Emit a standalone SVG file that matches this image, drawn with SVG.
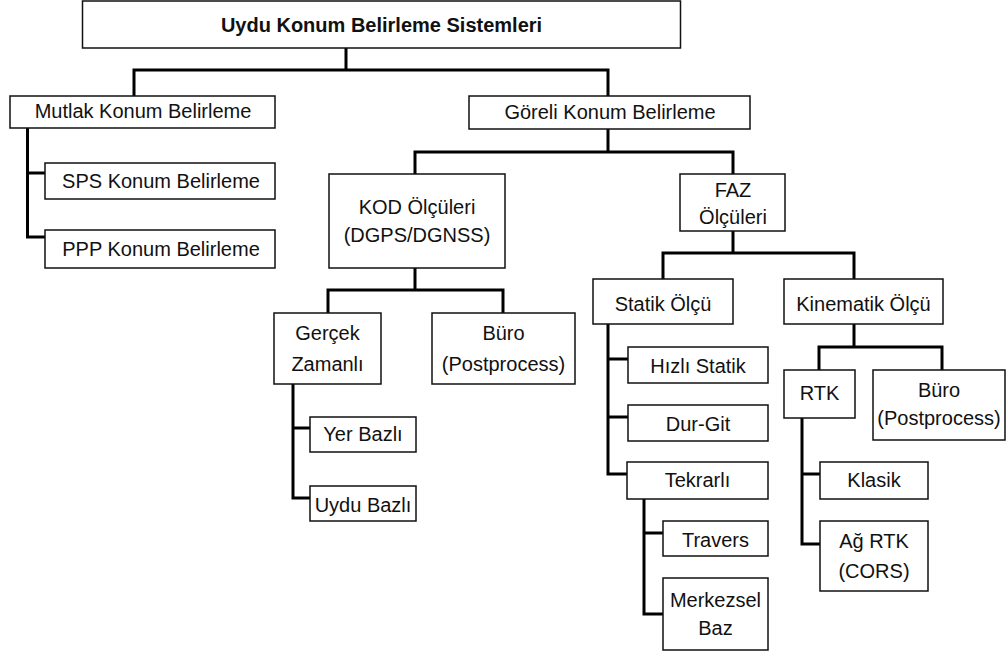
<svg xmlns="http://www.w3.org/2000/svg" width="1007" height="654" viewBox="0 0 1007 654">
<style>
rect.n{fill:#fff;stroke:#111;stroke-width:1.5}
text{font-family:"Liberation Sans",Arial,sans-serif;font-size:20px;fill:#111;text-anchor:middle}
text.b{font-weight:bold}
#connectors path{fill:none;stroke:#000;stroke-width:3}
</style>
<rect width="1007" height="654" fill="#fff"/>
<g id="connectors">
<path d="M346,48V70M134,96V70H608V96"/>
<path d="M27.5,128V237H45M27.5,173H45"/>
<path d="M608,129V152M415,174V152H733V174"/>
<path d="M415,268V290M328,313V290H503V313"/>
<path d="M293,384V498H310M293,428H310"/>
<path d="M733,231V253M663,279V253H854V279"/>
<path d="M608,324V474H628M608,359H628M608,417H628"/>
<path d="M644,499V614H663M644,533H663"/>
<path d="M854,324V347M819,370V347H942V370"/>
<path d="M802,418V544H820M802,474H820"/>
</g>
<g id="n-root"><rect class="n" x="82.5" y="1" width="598" height="47"/><text class="b" x="381.5" y="32">Uydu Konum Belirleme Sistemleri</text></g>
<g id="n-mutlak"><rect class="n" x="10" y="96" width="265" height="32"/><text x="143" y="118">Mutlak Konum Belirleme</text></g>
<g id="n-sps"><rect class="n" x="45" y="163" width="230" height="36"/><text x="161" y="188">SPS Konum Belirleme</text></g>
<g id="n-ppp"><rect class="n" x="45" y="230" width="230" height="38"/><text x="161" y="256">PPP Konum Belirleme</text></g>
<g id="n-goreli"><rect class="n" x="469" y="96" width="281" height="33"/><text x="610" y="119">Göreli Konum Belirleme</text></g>
<g id="n-kod"><rect class="n" x="329" y="174" width="176" height="94"/><text x="417" y="214">KOD Ölçüleri</text><text x="417" y="242">(DGPS/DGNSS)</text></g>
<g id="n-faz"><rect class="n" x="680" y="174" width="105" height="57"/><text x="733" y="197">FAZ</text><text x="733" y="224">Ölçüleri</text></g>
<g id="n-gercek"><rect class="n" x="274" y="313" width="107" height="71"/><text x="327.5" y="340">Gerçek</text><text x="327.5" y="371">Zamanlı</text></g>
<g id="n-buro1"><rect class="n" x="432" y="313" width="143" height="71"/><text x="503.5" y="340">Büro</text><text x="503.5" y="371">(Postprocess)</text></g>
<g id="n-yer"><rect class="n" x="310" y="417" width="106" height="35"/><text x="363" y="441">Yer Bazlı</text></g>
<g id="n-uydu"><rect class="n" x="310" y="486" width="106" height="35"/><text x="363" y="512">Uydu Bazlı</text></g>
<g id="n-statik"><rect class="n" x="593" y="279" width="140" height="45"/><text x="663" y="311">Statik Ölçü</text></g>
<g id="n-kinematik"><rect class="n" x="784" y="279" width="159" height="45"/><text x="863.5" y="311">Kinematik Ölçü</text></g>
<g id="n-hizli"><rect class="n" x="628" y="347" width="140" height="36"/><text x="698" y="373">Hızlı Statik</text></g>
<g id="n-durgit"><rect class="n" x="628" y="405" width="140" height="36"/><text x="698" y="431">Dur-Git</text></g>
<g id="n-tekrarli"><rect class="n" x="627" y="462" width="141" height="37"/><text x="697.5" y="487">Tekrarlı</text></g>
<g id="n-travers"><rect class="n" x="663" y="521" width="105" height="35"/><text x="715.5" y="547">Travers</text></g>
<g id="n-merkezsel"><rect class="n" x="663" y="578" width="105" height="72"/><text x="715.5" y="607">Merkezsel</text><text x="715.5" y="635">Baz</text></g>
<g id="n-rtk"><rect class="n" x="784" y="370" width="71" height="48"/><text x="819.5" y="400">RTK</text></g>
<g id="n-buro2"><rect class="n" x="873" y="370" width="132" height="70"/><text x="939" y="397">Büro</text><text x="939" y="425">(Postprocess)</text></g>
<g id="n-klasik"><rect class="n" x="820" y="462" width="108" height="37"/><text x="874" y="487">Klasik</text></g>
<g id="n-agrtk"><rect class="n" x="820" y="521" width="108" height="70"/><text x="874" y="548">Ağ RTK</text><text x="874" y="578">(CORS)</text></g>
</svg>
